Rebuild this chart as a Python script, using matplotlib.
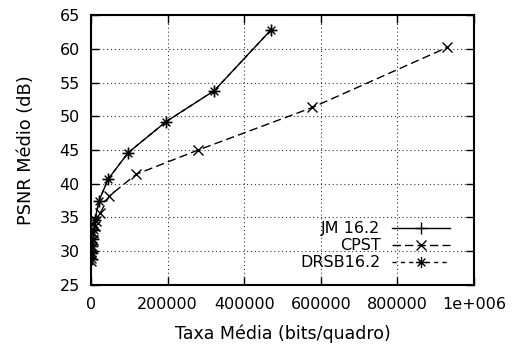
import matplotlib
matplotlib.use("Agg")
import matplotlib.pyplot as plt
from matplotlib.path import Path

plt.rcParams['font.family'] = ['DejaVu Sans']

# values
jm_rate = [1500, 2500, 3500, 5000, 7000, 10500, 21000, 45000, 97000, 196000, 322000, 470000]
jm_psnr = [28.8, 29.7, 30.8, 31.8, 33.2, 34.7, 37.5, 40.7, 44.6, 49.2, 53.8, 62.8]

cpst_rate = [1000, 2000, 3000, 4500, 6500, 9500, 14000, 23500, 48000, 118000, 280000, 578000, 930000]
cpst_psnr = [28.5, 29.5, 30.5, 31.6, 32.7, 33.7, 34.5, 35.6, 38.2, 41.4, 45.0, 51.3, 60.2]

drsb_rate = [1500, 2500, 3500, 5000, 7000, 10500, 21000, 45000, 97000, 196000, 322000, 470000]
drsb_psnr = [28.8, 29.7, 30.8, 31.8, 33.2, 34.7, 37.5, 40.7, 44.6, 49.2, 53.8, 62.8]

x_ticks = [0, 200000, 400000, 600000, 800000, 1000000]
x_tick_labels = ["0", "200000", "400000", "600000", "800000", "1e+006"]
y_ticks = [25, 30, 35, 40, 45, 50, 55, 60, 65]

# gnuplot style asterisk (+ and x together)
asterisk = Path(
    [(-1, 0), (1, 0), (0, -1), (0, 1), (-0.7, -0.7), (0.7, 0.7), (-0.7, 0.7), (0.7, -0.7)],
    [Path.MOVETO, Path.LINETO] * 4)

fig = plt.figure(figsize=(5.15, 3.49), dpi=100)
ax = fig.add_axes([0.1767, 0.1834, 0.7437, 0.7736])

ax.plot(jm_rate, jm_psnr, color='black', lw=1, marker='+', ms=8, mew=1,
        label='JM 16.2', zorder=4)
ax.plot(cpst_rate, cpst_psnr, color='black', lw=1, ls=(0, (6, 3)), marker='x', ms=7, mew=1,
        label='CPST', zorder=3)
ax.plot(drsb_rate, drsb_psnr, color='black', lw=1, ls=(0, (3, 3)), marker=asterisk, ms=8, mew=1,
        label='DRSB16.2', zorder=3)

ax.set_xlim(0, 1000000)
ax.set_ylim(25, 65)
ax.set_xticks(x_ticks)
ax.set_xticklabels(x_tick_labels)
ax.set_yticks(y_ticks)

ax.tick_params(direction='in', length=6, width=1, top=True, right=True,
               labelsize=11.5, colors='black')
ax.tick_params(axis='x', pad=9)
ax.tick_params(axis='y', pad=8)
for s in ax.spines.values():
    s.set_linewidth(1.5)

ax.grid(True, color='black', lw=0.8, ls=(0, (1, 2.5)), alpha=0.8)
ax.set_axisbelow(True)

ax.set_xlabel('Taxa Média (bits/quadro)', fontsize=12.5, labelpad=9)
ax.set_ylabel('PSNR Médio (dB)', fontsize=12.8, labelpad=18)

leg = ax.legend(loc='lower right', bbox_to_anchor=(0.937, 0.055), frameon=False,
                markerfirst=False, fontsize=11.5, handlelength=3.6, handletextpad=0.75,
                labelspacing=0.12, borderpad=0, borderaxespad=0)

fig.savefig('out.png', dpi=100)
